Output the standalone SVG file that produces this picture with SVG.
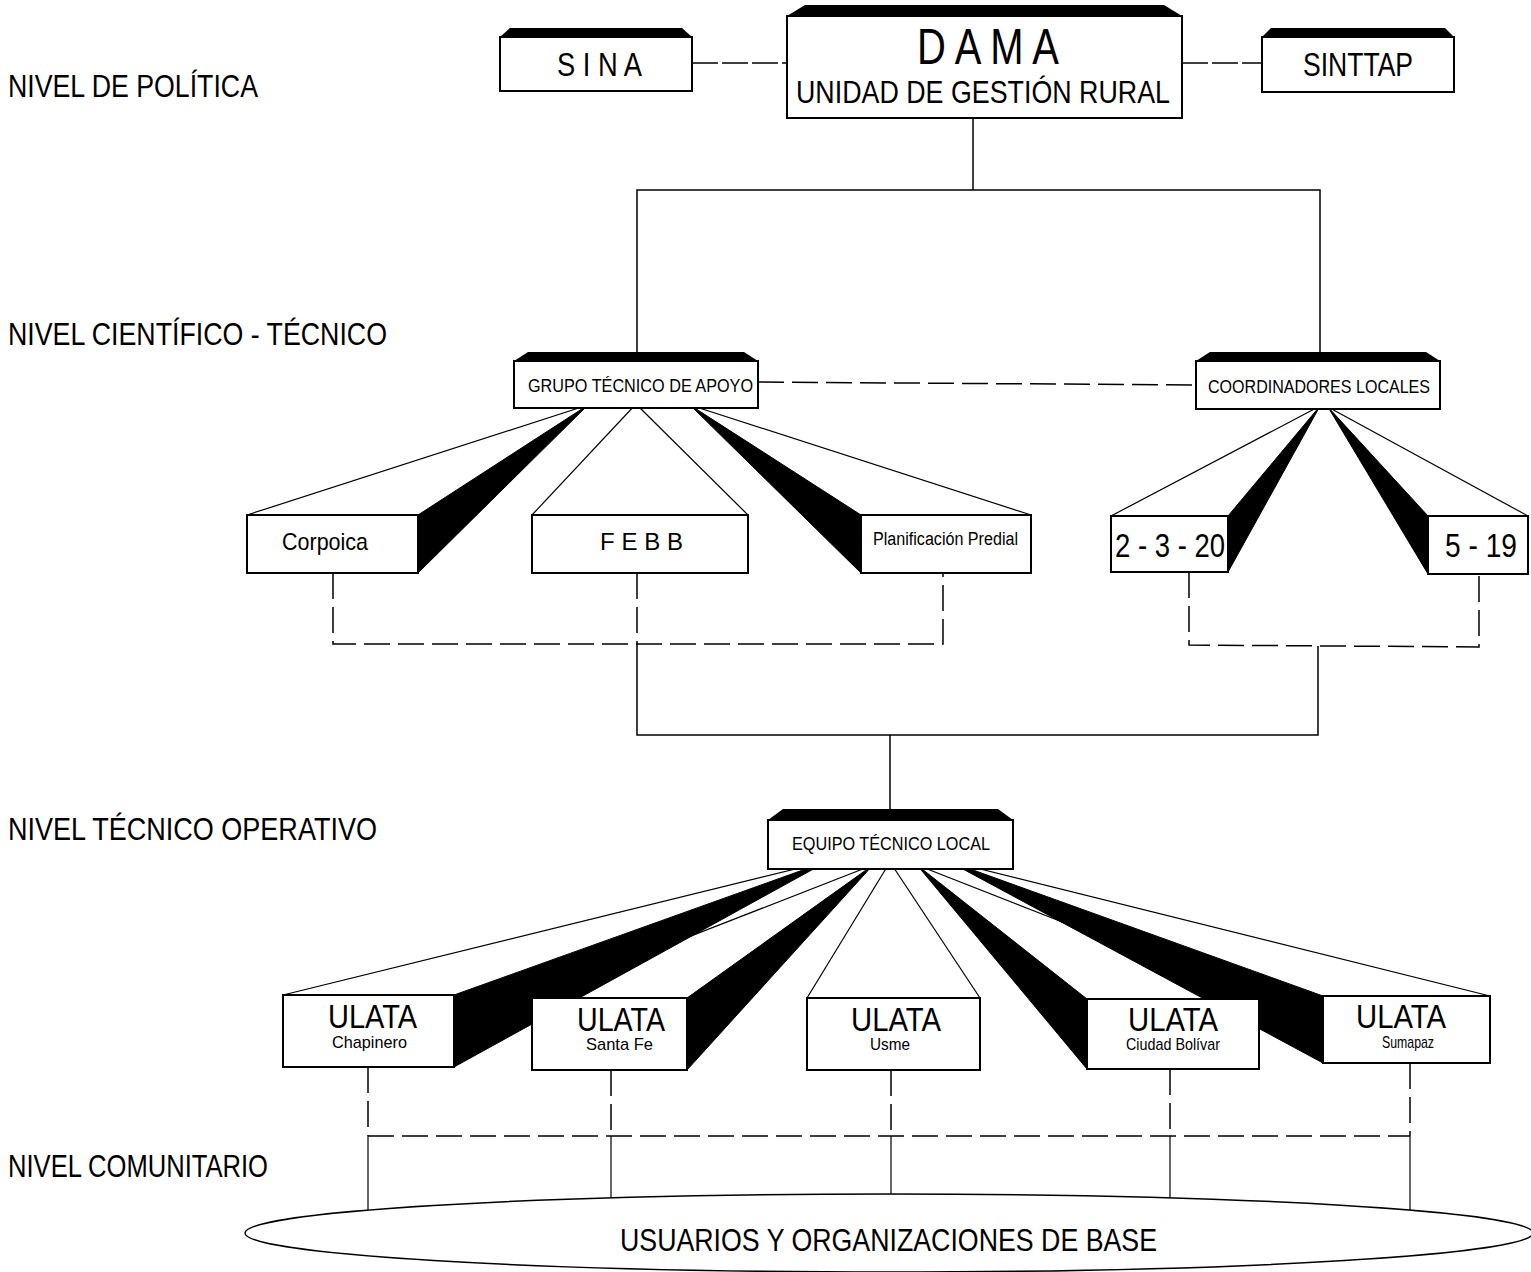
<svg xmlns="http://www.w3.org/2000/svg" width="1531" height="1272" viewBox="0 0 1531 1272">
<style>
  .box { fill: #fff; stroke: #000; stroke-width: 2; }
  .cap { fill: #000; }
  .ln { stroke: #000; stroke-width: 1.5; fill: none; }
  .dash { stroke: #000; stroke-width: 1.5; fill: none; stroke-dasharray: 26 8; }
  .dash2 { stroke: #000; stroke-width: 1.5; fill: none; stroke-dasharray: 26 4; }
  .thin { stroke: #000; stroke-width: 1.2; fill: none; }
  .wedge { fill: #000; stroke: #000; stroke-width: 1; }
  text { font-family: "Liberation Sans", Arial, sans-serif; fill: #000; }
  .lvl { font-size: 31px; }
</style>
<rect width="1531" height="1272" fill="#fff"/>

<g id="level-labels">
  <text class="lvl" x="8" y="97" textLength="250" lengthAdjust="spacingAndGlyphs">NIVEL DE POLÍTICA</text>
  <text class="lvl" x="8" y="345" textLength="379" lengthAdjust="spacingAndGlyphs">NIVEL CIENTÍFICO - TÉCNICO</text>
  <text class="lvl" x="8" y="840" textLength="369" lengthAdjust="spacingAndGlyphs">NIVEL TÉCNICO OPERATIVO</text>
  <text class="lvl" x="8" y="1177" textLength="260" lengthAdjust="spacingAndGlyphs">NIVEL COMUNITARIO</text>
</g>

<g id="connectors">
  <line class="dash2" x1="692" y1="63" x2="787" y2="63"/>
  <line class="dash2" x1="1182" y1="63" x2="1262" y2="63"/>
  <line class="ln" x1="973" y1="118" x2="973" y2="190"/>
  <polyline class="ln" points="637,352 637,190 1320,190 1320,352"/>
  <line class="dash" x1="758" y1="382" x2="1196" y2="385"/>

  <line class="thin" x1="588" y1="405" x2="247" y2="515"/>
  <polygon class="wedge" points="588,405 418,515 418,573"/>
  <line class="thin" x1="636" y1="404" x2="532" y2="515"/>
  <line class="thin" x1="636" y1="404" x2="748" y2="515"/>
  <line class="thin" x1="690" y1="405" x2="1031" y2="515"/>
  <polygon class="wedge" points="690,405 861,515 861,573"/>

  <line class="thin" x1="1320" y1="406" x2="1111" y2="516"/>
  <polygon class="wedge" points="1320,406 1228,516 1228,572"/>
  <line class="thin" x1="1328" y1="407" x2="1528" y2="516"/>
  <polygon class="wedge" points="1328,407 1428,516 1428,574"/>

  <polyline class="dash" points="333,573 333,644 943,644 943,573"/>
  <line class="dash" x1="637" y1="573" x2="637" y2="644"/>
  <polyline class="ln" points="637,644 637,735 1318,735 1318,646"/>
  <polyline class="dash" points="1189,572 1189,645 1479,647 1479,574"/>
  <line class="ln" x1="890" y1="735" x2="890" y2="809"/>

  <line class="thin" x1="828" y1="861" x2="283" y2="995"/>
  <polygon class="wedge" points="828,861 454,995 454,1067"/>
  <line class="thin" x1="873" y1="865" x2="532" y2="998"/>
  <polygon class="wedge" points="873,865 687,998 687,1070"/>
  <line class="thin" x1="890" y1="862" x2="807" y2="998"/>
  <line class="thin" x1="890" y1="862" x2="980" y2="998"/>
  <line class="thin" x1="917" y1="865" x2="1259" y2="999"/>
  <polygon class="wedge" points="917,865 1087,999 1087,1069"/>
  <line class="thin" x1="948" y1="861" x2="1490" y2="996"/>
  <polygon class="wedge" points="948,861 1323,996 1323,1063"/>

  <line class="dash" x1="368" y1="1067" x2="368" y2="1136"/>
  <line class="dash" x1="611" y1="1070" x2="611" y2="1136"/>
  <line class="dash" x1="891" y1="1070" x2="891" y2="1136"/>
  <line class="dash" x1="1170" y1="1069" x2="1170" y2="1136"/>
  <line class="dash" x1="1410" y1="1063" x2="1410" y2="1136"/>
  <line class="dash" x1="368" y1="1136" x2="1410" y2="1136"/>
  <line class="thin" x1="368" y1="1136" x2="368" y2="1211"/>
  <line class="thin" x1="611" y1="1136" x2="611" y2="1200"/>
  <line class="thin" x1="891" y1="1136" x2="891" y2="1195"/>
  <line class="thin" x1="1170" y1="1136" x2="1170" y2="1200"/>
  <line class="thin" x1="1410" y1="1136" x2="1410" y2="1212"/>
</g>

<g id="node-sina">
  <polygon class="cap" points="500,37 510,28 682,28 692,37"/>
  <rect class="box" x="500" y="37" width="192" height="54"/>
  <text x="557" y="76" font-size="34" textLength="85" lengthAdjust="spacingAndGlyphs">S I N A</text>
</g>

<g id="node-dama">
  <polygon class="cap" points="787,16 805,5 1164,5 1182,16"/>
  <rect class="box" x="787" y="16" width="395" height="102"/>
  <text x="917" y="64" font-size="50" textLength="142" lengthAdjust="spacingAndGlyphs">D A M A</text>
  <text x="796" y="103" font-size="32" textLength="374" lengthAdjust="spacingAndGlyphs">UNIDAD DE GESTIÓN RURAL</text>
</g>

<g id="node-sinttap">
  <polygon class="cap" points="1262,37 1271,28 1445,28 1454,37"/>
  <rect class="box" x="1262" y="37" width="192" height="55"/>
  <text x="1303" y="76" font-size="34" textLength="110" lengthAdjust="spacingAndGlyphs">SINTTAP</text>
</g>

<g id="node-grupo">
  <polygon class="cap" points="514,361 528,352 744,352 758,361"/>
  <rect class="box" x="514" y="361" width="244" height="47"/>
  <text x="528" y="392" font-size="19" textLength="225" lengthAdjust="spacingAndGlyphs">GRUPO TÉCNICO DE APOYO</text>
</g>

<g id="node-coordinadores">
  <polygon class="cap" points="1196,361 1210,352 1426,352 1440,361"/>
  <rect class="box" x="1196" y="361" width="244" height="48"/>
  <text x="1208" y="393" font-size="19" textLength="222" lengthAdjust="spacingAndGlyphs">COORDINADORES LOCALES</text>
</g>

<g id="node-corpoica">
  <rect class="box" x="247" y="515" width="171" height="58"/>
  <text x="282" y="550" font-size="24" textLength="86" lengthAdjust="spacingAndGlyphs">Corpoica</text>
</g>

<g id="node-febb">
  <rect class="box" x="532" y="515" width="216" height="58"/>
  <text x="600" y="550" font-size="24" textLength="83">F E B B</text>
</g>

<g id="node-planificacion">
  <rect class="box" x="861" y="515" width="170" height="58"/>
  <text x="873" y="545" font-size="18" textLength="145" lengthAdjust="spacingAndGlyphs">Planificación Predial</text>
</g>

<g id="node-2-3-20">
  <rect class="box" x="1111" y="516" width="117" height="56"/>
  <text x="1115" y="557" font-size="34" textLength="110" lengthAdjust="spacingAndGlyphs">2 - 3 - 20</text>
</g>

<g id="node-5-19">
  <rect class="box" x="1428" y="516" width="100" height="58"/>
  <text x="1445" y="557" font-size="34" textLength="72" lengthAdjust="spacingAndGlyphs">5 - 19</text>
</g>

<g id="node-equipo">
  <polygon class="cap" points="768,820 783,809 998,809 1013,820"/>
  <rect class="box" x="768" y="820" width="245" height="49"/>
  <text x="792" y="850" font-size="19" textLength="198" lengthAdjust="spacingAndGlyphs">EQUIPO TÉCNICO LOCAL</text>
</g>

<g id="node-ulata-chapinero">
  <rect class="box" x="283" y="995" width="171" height="72"/>
  <text x="328" y="1028" font-size="34" textLength="89" lengthAdjust="spacingAndGlyphs">ULATA</text>
  <text x="332" y="1048" font-size="17" textLength="75" lengthAdjust="spacingAndGlyphs">Chapinero</text>
</g>

<g id="node-ulata-santafe">
  <rect class="box" x="532" y="998" width="155" height="72"/>
  <text x="577" y="1031" font-size="34" textLength="88" lengthAdjust="spacingAndGlyphs">ULATA</text>
  <text x="586" y="1050" font-size="17" textLength="67" lengthAdjust="spacingAndGlyphs">Santa Fe</text>
</g>

<g id="node-ulata-usme">
  <rect class="box" x="807" y="998" width="173" height="72"/>
  <text x="851" y="1031" font-size="34" textLength="90" lengthAdjust="spacingAndGlyphs">ULATA</text>
  <text x="870" y="1050" font-size="17" textLength="40" lengthAdjust="spacingAndGlyphs">Usme</text>
</g>

<g id="node-ulata-bolivar">
  <rect class="box" x="1087" y="999" width="172" height="70"/>
  <text x="1128" y="1031" font-size="34" textLength="90" lengthAdjust="spacingAndGlyphs">ULATA</text>
  <text x="1126" y="1050" font-size="17" textLength="94" lengthAdjust="spacingAndGlyphs">Ciudad Bolívar</text>
</g>

<g id="node-ulata-sumapaz">
  <rect class="box" x="1323" y="996" width="167" height="67"/>
  <text x="1356" y="1028" font-size="34" textLength="90" lengthAdjust="spacingAndGlyphs">ULATA</text>
  <text x="1382" y="1048" font-size="17" textLength="52" lengthAdjust="spacingAndGlyphs">Sumapaz</text>
</g>

<g id="node-usuarios">
  <ellipse cx="889" cy="1233" rx="644" ry="39" fill="#fff" stroke="#000" stroke-width="1.5"/>
  <text x="620" y="1251" font-size="31" textLength="537" lengthAdjust="spacingAndGlyphs">USUARIOS Y ORGANIZACIONES DE BASE</text>
</g>
</svg>
